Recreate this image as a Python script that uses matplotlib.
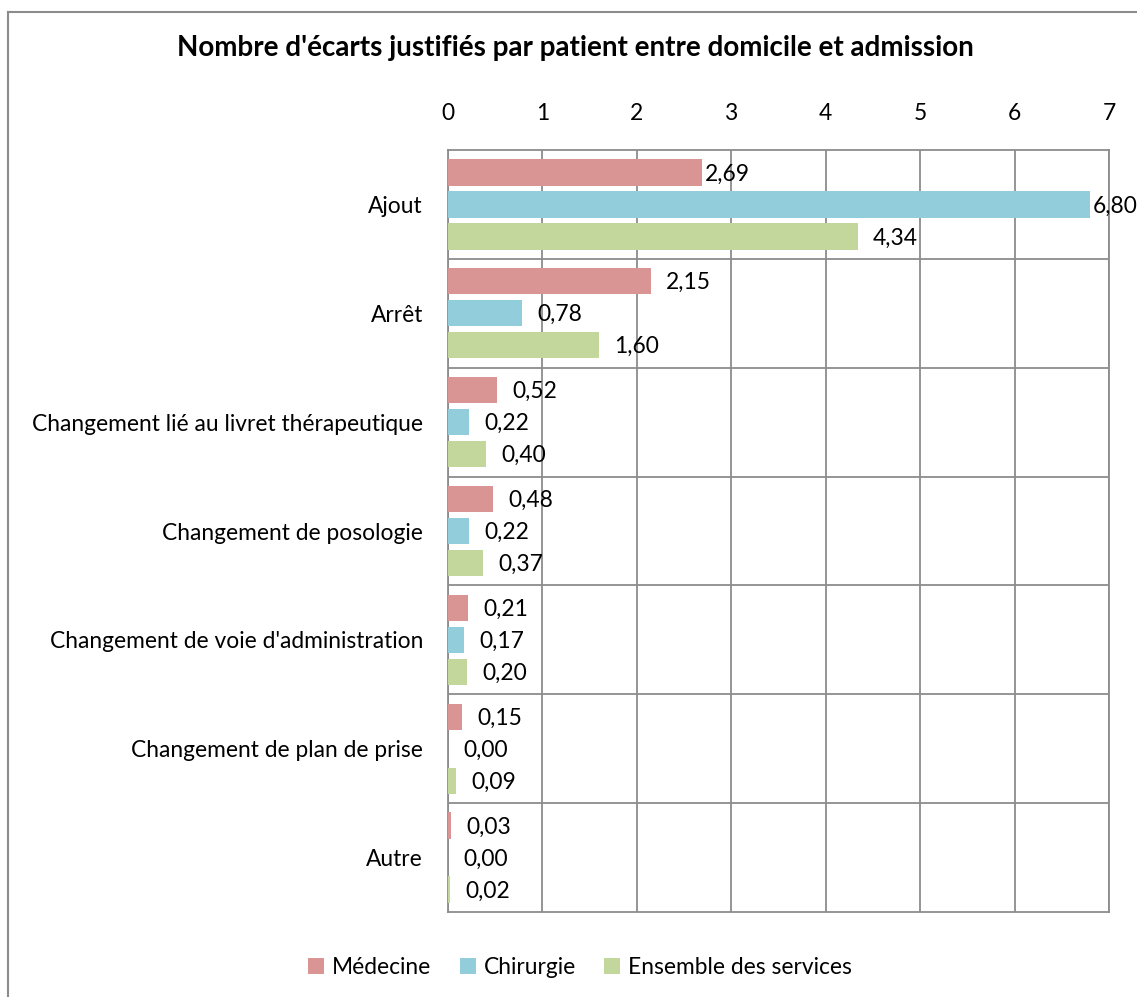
import matplotlib.pyplot as plt
from matplotlib.lines import Line2D

plt.rcParams['font.family'] = ['Lato', 'DejaVu Sans']

categories = ['Ajout', 'Arrêt', 'Changement lié au livret thérapeutique',
              'Changement de posologie', "Changement de voie d'administration",
              'Changement de plan de prise', 'Autre']
medecine = [2.69, 2.15, 0.52, 0.48, 0.21, 0.15, 0.03]
chirurgie = [6.80, 0.78, 0.22, 0.22, 0.17, 0.00, 0.00]
ensemble = [4.34, 1.60, 0.40, 0.37, 0.20, 0.09, 0.02]
series_names = ['Médecine', 'Chirurgie', 'Ensemble des services']
colors = ['#D99594', '#92CDDC', '#C3D69B']

fs = 16.4
fig = plt.figure(figsize=(11.37, 9.97), dpi=100)
ax = fig.add_axes([0.394, 0.0853, 0.5814, 0.7642])

pos = list(range(len(categories)))
h = 0.24
off = 0.294
for k, (vals, name, col) in enumerate(zip([medecine, chirurgie, ensemble], series_names, colors)):
    ys = [p + (k - 1) * off for p in pos]
    ax.barh(ys, vals, height=h, color=col, label=name, zorder=3)
    for y, v in zip(ys, vals):
        # excel squeezes the labels of the two longest top bars closer
        pad = 2 if (y < 0.1 and v > 2.5) else 11
        ax.annotate(f"{v:.2f}".replace('.', ','), (v, y), xytext=(pad, -1),
                    textcoords='offset points', ha='left', va='center', fontsize=fs)

ax.set_xlim(0, 7)
ax.set_ylim(len(categories) - 0.5, -0.5)
ax.xaxis.tick_top()
ax.set_xticks(range(0, 8))
ax.set_yticks(pos)
ax.set_yticklabels(categories)
ax.tick_params(axis='x', length=0, pad=18.5, labelsize=fs)
ax.tick_params(axis='y', length=0, pad=18, labelsize=fs)
ax.grid(axis='x', color='#8c8c8c', linewidth=1.3, zorder=1)
for p in pos[:-1]:
    ax.axhline(p + 0.5, color='#8c8c8c', linewidth=1.3, zorder=1)
for s in ax.spines.values():
    s.set_color('#8c8c8c')
    s.set_linewidth(1.3)

fig.text(575 / 1137, 1 - 48 / 997, "Nombre d'écarts justifiés par patient entre domicile et admission",
         ha='center', va='center', fontsize=20, fontweight='bold')

fig.legend(loc='center', bbox_to_anchor=(580 / 1137, 1 - 967 / 997), ncol=3, frameon=False,
           fontsize=fs, handlelength=0.7, handleheight=0.7, handletextpad=0.35, columnspacing=1.25)

fig.add_artist(Line2D([8 / 1137, 8 / 1137], [0, 1 - 12 / 997], color='#8c8c8c', linewidth=1.5,
                      transform=fig.transFigure))
fig.add_artist(Line2D([8 / 1137, 1], [1 - 12 / 997, 1 - 12 / 997], color='#8c8c8c', linewidth=1.5,
                      transform=fig.transFigure))

fig.savefig('out.png', dpi=100)
